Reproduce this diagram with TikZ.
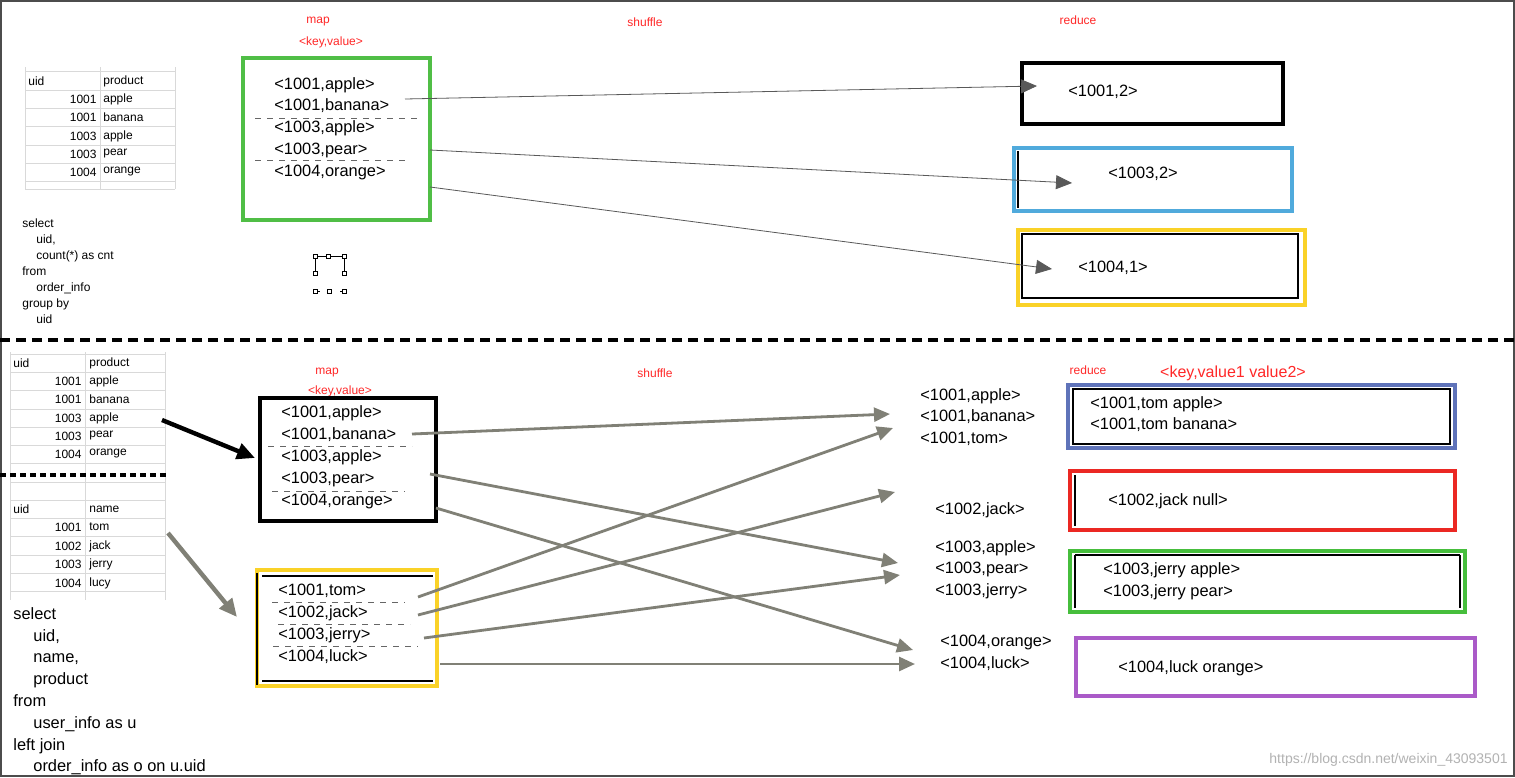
\documentclass[tikz,border=0pt]{standalone}
\usepackage{fontspec}
\setmainfont{Liberation Sans}
\usetikzlibrary{arrows.meta}
\begin{document}
\begin{tikzpicture}[x=0.5pt,y=-0.5pt,
 big/.style={anchor=west,inner sep=0,font=\fontsize{8.2pt}{9pt}\selectfont},
 sm/.style={anchor=west,inner sep=0,font=\fontsize{6pt}{7pt}\selectfont},
 red/.style={inner sep=0,text={rgb,255:red,255;green,40;blue,40},font=\fontsize{6pt}{7pt}\selectfont},
 dsh/.style={dashed,gray!80!black,line width=0.5pt},
 thin/.style={gray!70!black,line width=0.4pt,-{Triangle[length=8pt,width=7pt]}},
 garr/.style={draw={rgb,255:red,128;green,128;blue,118},line width=1.4pt,-{Triangle[length=8pt,width=7pt]}},
 grid/.style={gray!30,line width=0.5pt}]
\useasboundingbox (0,0) rectangle (1515,777);
\fill[white] (0,0) rectangle (1515,777);
\draw[gray!60!black,line width=1pt] (1,1) rectangle (1514,776);
% ---- top ----
\node[red] (m1) at (318,22) {map};
\node[red] (kv1) at (331,42) {<key,value>};
\node[red] (sh1) at (645,22) {shuffle};
\node[red] (rd1) at (1078,20) {reduce};
% table 1
\foreach \y in {71,90,108,126,145,163,181,189} \draw[grid] (25,\y)--(175,\y);
\foreach \x in {25,100,175} \draw[grid] (\x,67)--(\x,189);
\node[sm] (t1h) at (28,81) {uid}; \node[sm] (t1h2) at (103,81) {product};
\foreach \n/\p/\y in {1001/apple/99,1001/banana/117,1003/apple/136,1003/pear/154,1004/orange/172}{
 \node[sm,anchor=east] at (97,\y) {\n}; \node[sm] at (103,\y) {\p};}
\node[sm,align=left,anchor=north west,font=\fontsize{6pt}{8pt}\selectfont] (sql1) at (22,218)
 {select\\\hspace{7pt}uid,\\\hspace{7pt}count(*) as cnt\\from\\\hspace{7pt}order\_info\\group by\\\hspace{7pt}uid};
% green map box
\draw[draw={rgb,255:red,80;green,190;blue,70},line width=2.2pt] (243,58) rectangle (430,220);
\node[big] (a1) at (274,85) {<1001,apple>};
\node[big] (a2) at (274,106) {<1001,banana>};
\node[big] (a3) at (274,128) {<1003,apple>};
\node[big] (a4) at (274,150) {<1003,pear>};
\node[big] (a5) at (274,172) {<1004,orange>};
\draw[dsh] (255,118)--(420,118); \draw[dsh] (255,160)--(408,160);
% handles
\foreach \x/\y in {315/256,328/256,344/256,315/273,344/273,315/291,329/291,344/291}
 \draw[line width=0.3pt] (\x-2,\y-2) rectangle (\x+2,\y+2);
\draw[line width=0.3pt] (317,256)--(326,256) (330,256)--(342,256) (315,258)--(315,271) (344,258)--(344,271) (317,291)--(320,291) (340,291)--(342,291);
% reduce boxes
\draw[line width=1.8pt] (1022,63) rectangle (1283,124);
\node[big] (r1) at (1068,92) {<1001,2>};
\draw[draw={rgb,255:red,80;green,170;blue,220},line width=2pt] (1014,148) rectangle (1292,211);
\draw[line width=1pt] (1018,151)--(1018,208);
\node[big] (r2) at (1108,174) {<1003,2>};
\draw[draw={rgb,255:red,250;green,210;blue,40},line width=2.2pt] (1018,230) rectangle (1305,305);
\draw[line width=1.2pt] (1022,234) rectangle (1298,298);
\node[big] (r3) at (1078,268) {<1004,1>};
\coordinate (e1) at (1037,86); \coordinate (e2) at (1072,183); \coordinate (e3) at (1052,269);
\draw[thin] (405,99)--(e1);
\draw[thin] (430,150)--(e2);
\draw[thin] (430,187)--(e3);
% separator
\draw[line width=2pt,dash pattern=on 5pt off 3pt] (0,340)--(1515,340);
% ---- bottom ----
\node[red] (m2) at (327,373) {map};
\node[red] (kv2) at (340,391) {<key,value>};
\node[red] (sh2) at (655,373) {shuffle};
\node[red] (rd2) at (1088,370) {reduce};
\node[red,font=\fontsize{8pt}{9pt}\selectfont] (kv3) at (1233,373) {<key,value1 value2>};
\foreach \y in {354,372,390,409,427,445,463} \draw[grid] (10,\y)--(165,\y);
\foreach \x in {10,85,165} \draw[grid] (\x,352)--(\x,600);
\foreach \y in {482,500,518,536,555,573,591} \draw[grid] (10,\y)--(165,\y);
\node[sm] at (13,363) {uid}; \node[sm] at (89,363) {product};
\foreach \n/\p/\y in {1001/apple/381,1001/banana/399,1003/apple/418,1003/pear/436,1004/orange/454}{
 \node[sm,anchor=east] at (82,\y) {\n}; \node[sm] at (89,\y) {\p};}
\draw[line width=2pt,dash pattern=on 3pt off 2pt] (0,475)--(168,475);
\node[sm] at (13,509) {uid}; \node[sm] at (89,509) {name};
\foreach \n/\p/\y in {1001/tom/527,1002/jack/546,1003/jerry/564,1004/lucy/583}{
 \node[sm,anchor=east] at (82,\y) {\n}; \node[sm] at (89,\y) {\p};}
\node[big,align=left,anchor=north west,font=\fontsize{8.2pt}{10.9pt}\selectfont] (sql2) at (13,607)
 {select\\\hspace{10pt}uid,\\\hspace{10pt}name,\\\hspace{10pt}product\\from\\\hspace{10pt}user\_info as u\\left join\\\hspace{10pt}order\_info as o on u.uid};
% map boxes
\draw[line width=2.2pt] (260,398) rectangle (436,521);
\node[big] (b1) at (281,413) {<1001,apple>};
\node[big] (b2) at (281,435) {<1001,banana>};
\node[big] (b3) at (281,457) {<1003,apple>};
\node[big] (b4) at (281,479) {<1003,pear>};
\node[big] (b5) at (281,501) {<1004,orange>};
\draw[dsh] (268,446)--(412,446); \draw[dsh] (272,491)--(405,491);
\draw[draw={rgb,255:red,250;green,210;blue,40},line width=2.2pt] (257,570) rectangle (437,686);
\draw[line width=1.2pt] (262,576)--(433,576) (262,681)--(433,681) (257,573)--(257,685);
\node[big] (c1) at (278,591) {<1001,tom>};
\node[big] (c2) at (278,613) {<1002,jack>};
\node[big] (c3) at (278,635) {<1003,jerry>};
\node[big] (c4) at (278,657) {<1004,luck>};
\draw[dsh] (272,602)--(405,602); \draw[dsh] (278,624)--(410,624); \draw[dsh] (273,646)--(418,646);
\coordinate (s1) at (162,420); \coordinate (s2) at (255,458);
\coordinate (s3) at (168,533); \coordinate (s4) at (237,617);
\draw[line width=2.2pt,-{Triangle[length=9pt,width=8pt]}] (s1)--(s2);
\draw[draw={rgb,255:red,128;green,128;blue,118},line width=2.2pt,-{Triangle[length=9pt,width=8pt]}] (s3)--(s4);
% right keys
\node[big] (k1) at (920,396) {<1001,apple>};
\node[big] (k2) at (920,417) {<1001,banana>};
\node[big] (k3) at (920,439) {<1001,tom>};
\node[big] (k4) at (935,510) {<1002,jack>};
\node[big] (k5) at (935,548) {<1003,apple>};
\node[big] (k6) at (935,569) {<1003,pear>};
\node[big] (k7) at (935,591) {<1003,jerry>};
\node[big] (k8) at (940,642) {<1004,orange>};
\node[big] (k9) at (940,664) {<1004,luck>};
\coordinate (f1) at (890,414); \coordinate (f2) at (898,563); \coordinate (f3) at (913,650);
\coordinate (f4) at (893,428); \coordinate (f5) at (895,492); \coordinate (f6) at (900,575); \coordinate (f7) at (915,664);
\draw[garr] (412,434)--(f1);
\draw[garr] (430,474)--(f2);
\draw[garr] (436,508)--(f3);
\draw[garr] (418,597)--(f4);
\draw[garr] (418,615)--(f5);
\draw[garr] (424,638)--(f6);
\draw[garr] (440,664)--(f7);
% reduce boxes bottom
\draw[draw={rgb,255:red,95;green,115;blue,185},line width=2pt] (1068,385) rectangle (1455,448);
\draw[line width=1.2pt] (1073,389) rectangle (1450,444);
\node[big] (q1) at (1090,404) {<1001,tom apple>};
\node[big] (q2) at (1090,425) {<1001,tom banana>};
\draw[draw={rgb,255:red,235;green,40;blue,35},line width=2pt] (1070,471) rectangle (1455,530);
\draw[line width=1.2pt] (1075,475)--(1075,526);
\node[big] (q3) at (1108,501) {<1002,jack null>};
\draw[draw={rgb,255:red,70;green,190;blue,60},line width=2pt] (1070,551) rectangle (1465,612);
\draw[line width=1.2pt] (1075,555)--(1460,555) (1075,555)--(1075,608) (1460,555)--(1460,608);
\node[big] (q4) at (1103,570) {<1003,jerry apple>};
\node[big] (q5) at (1103,592) {<1003,jerry pear>};
\draw[draw={rgb,255:red,170;green,90;blue,200},line width=2pt] (1076,638) rectangle (1475,696);
\node[big] (q6) at (1118,668) {<1004,luck orange>};
\node[sm,anchor=east,text=gray!60,font=\fontsize{7pt}{8pt}\selectfont] (wm) at (1508,760) {https://blog.csdn.net/weixin\_43093501};
\end{tikzpicture}
\end{document}
